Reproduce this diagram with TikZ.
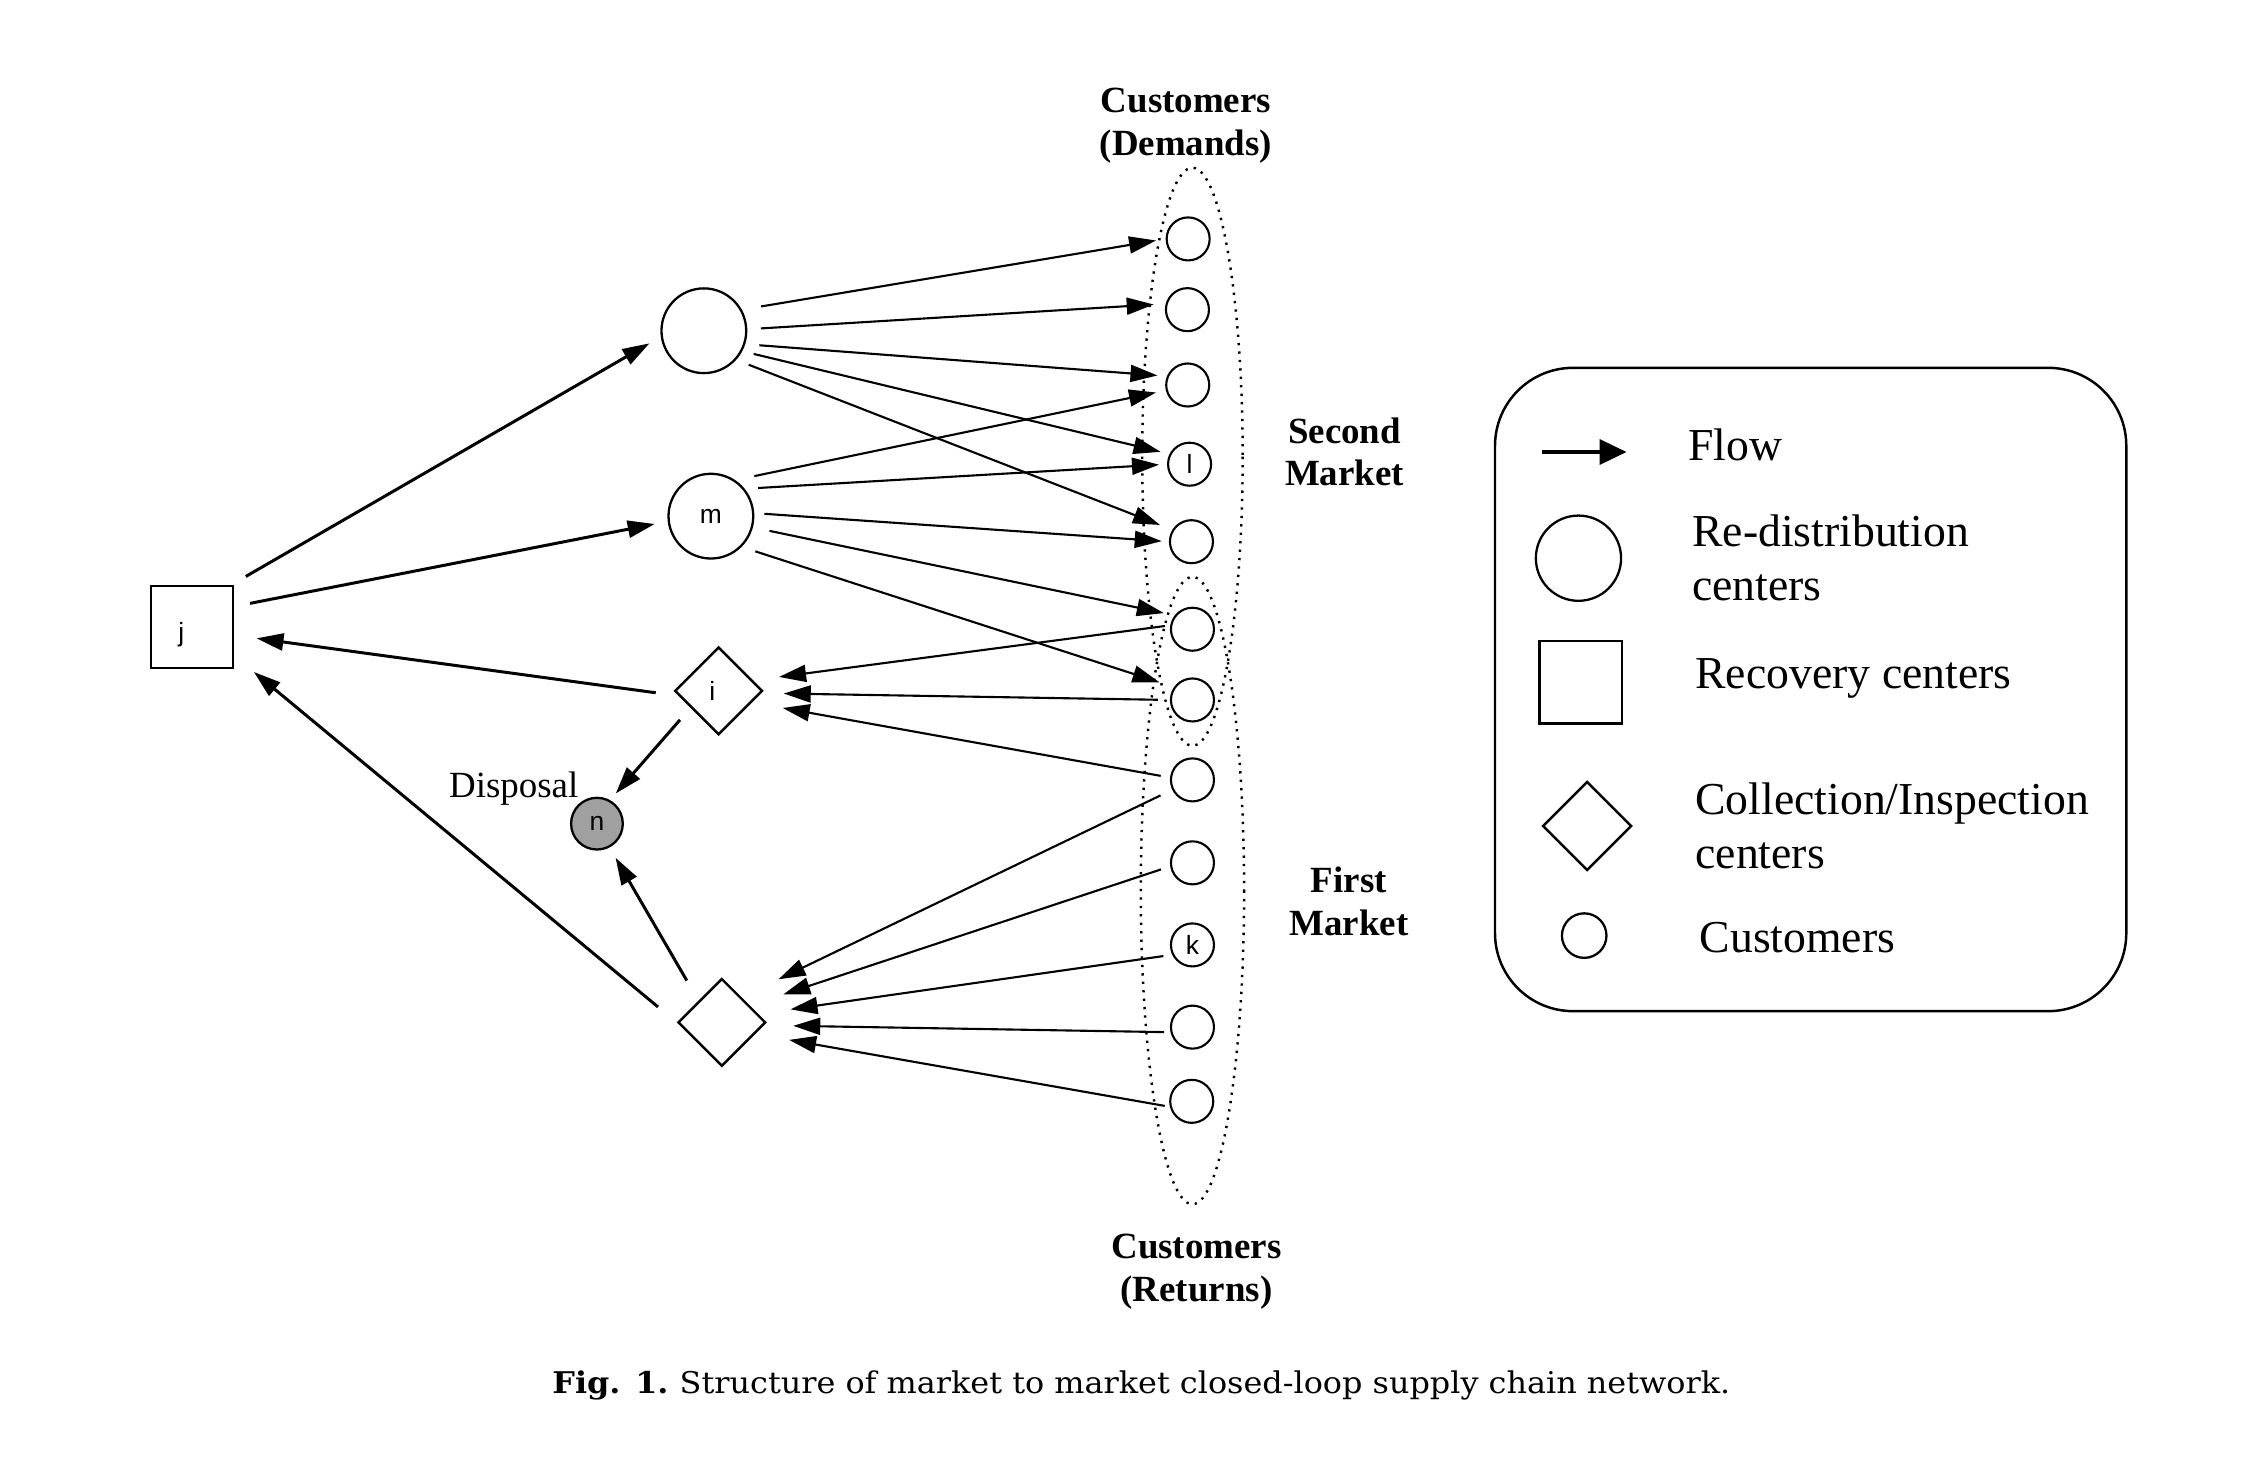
\documentclass[tikz,border=0pt]{standalone}
\usepackage{fontspec}
\setmainfont{Liberation Serif}
\setsansfont{Liberation Sans}
\newfontfamily\capfont{DejaVu Serif}
\usetikzlibrary{arrows.meta,shapes.geometric}
\definecolor{dispgray}{RGB}{160,160,160}
\begin{document}
\begin{tikzpicture}[x=0.01435cm,y=-0.01435cm,
  lettr/.style={font=\sffamily\fontsize{7.5}{8}\selectfont},
  cust/.style={circle,draw,line width=0.6pt,minimum size=0.43cm,inner sep=0pt,lettr},
  dc/.style={circle,draw,line width=0.65pt,minimum size=0.847cm,inner sep=0pt,lettr},
  rc/.style={rectangle,draw,line width=0.7pt,minimum size=0.818cm,inner sep=0pt,lettr},
  cc/.style={diamond,draw,line width=0.7pt,aspect=1,minimum width=0.877cm,minimum height=0.877cm,inner sep=0pt,lettr},
  flow/.style={-{Triangle[length=0.27cm,width=0.17cm]},line width=0.6pt},
  mflow/.style={-{Triangle[length=0.27cm,width=0.17cm]},line width=0.85pt},
  gp/.style 2 args={shorten <=#1*0.01435cm, shorten >=#2*0.01435cm},
  grp/.style={line width=0.7pt,dash pattern=on 0.65pt off 1.75pt},
  lbl/.style={font=\bfseries\fontsize{10.5}{12.1}\selectfont,anchor=base,inner sep=0pt},
  leg/.style={font=\fontsize{13}{15.4}\selectfont,anchor=base west,inner sep=0pt},
]
\fill[white] (0,0) rectangle (1568,1017);
\useasboundingbox (0,0) rectangle (1568,1017);

% customer groups
\draw[grp] (831,318.3) ellipse [x radius=35, y radius=201.4];
\draw[grp] (831,620.6) ellipse [x radius=36, y radius=218.6];

% nodes
\node[rc,text height=8.4pt,text depth=0pt] (j) at (133.7,437) {j\kern6pt};
\node[dc] (r1) at (490.5,230.5) {};
\node[dc] (m) at (495.4,359.7) {m};
\node[cc] (i) at (500.8,481.5) {i\kern3.6pt};
\node[cc] (b) at (503,712.5) {};
\node[circle,draw,line width=0.65pt,fill=dispgray,minimum size=0.517cm,inner sep=0pt,lettr] (n) at (416,574) {n};
\node[font=\fontsize{10.5}{12}\selectfont,anchor=base,inner sep=0pt] (disp) at (358,556) {Disposal};

\node[cust] (c1) at (828,166.5) {};
\node[cust] (c2) at (827.5,215.8) {};
\node[cust] (c3) at (827.7,268.3) {};
\node[cust] (c4) at (829,323.5) {l};
\node[cust] (c5) at (830.3,377.5) {};
\node[cust] (c6) at (831,438.5) {};
\node[cust] (c7) at (831,487.8) {};
\node[cust] (c8) at (831,543.5) {};
\node[cust] (c9) at (831,601.3) {};
\node[cust] (c10) at (831,658.5) {k};
\node[cust] (c11) at (831,715.8) {};
\node[cust] (c12) at (830.5,767.5) {};

% labels
\node[lbl] (dem) at (826.5,78.5) {\begin{tabular}[t]{@{}c@{}}Customers\\(Demands)\end{tabular}};
\node[lbl] (ret) at (833.8,877) {\begin{tabular}[t]{@{}c@{}}Customers\\(Returns)\end{tabular}};
\node[lbl] (sec) at (937,309) {\begin{tabular}[t]{@{}c@{}}Second\\Market\end{tabular}};
\node[lbl] (fir) at (940,622) {\begin{tabular}[t]{@{}c@{}}First\\Market\end{tabular}};

% forward flows from the top re-distribution center
\draw[flow,gp={13.6}{6.7}] (r1.29.2) -- (c1.180);
\draw[flow,gp={9.5}{8.3}] (r1.2.2) -- (c2.165);
\draw[flow,gp={9.9}{6.6}] (r1.-18) -- (c3.157.5);
\draw[flow,gp={8.2}{6.4}] (r1.-28.7) -- (c4.153.7);
\draw[flow,gp={9.4}{9.2}] (r1.-42.9) -- (c5.148);
% forward flows from m
\draw[flow,gp={13.6}{7}] (m.56.8) -- (c3.194);
\draw[flow,gp={9.4}{5.6}] (m.39.5) -- (c4.180);
\draw[flow,gp={7.1}{5}] (m.4.9) -- (c5.180);
\draw[flow,gp={11.8}{7.7}] (m.-15.9) -- (c6.142.3);
\draw[flow,gp={10}{10.6}] (m.-45.8) -- (c7.145.8);
% returns to i
\draw[flow,gp={3.7}{18.2}] (c6.170.8) -- (i.17.3);
\draw[flow,gp={8.3}{15.5}] (c7.180) -- (i.-3.6);
\draw[flow,gp={6.6}{21.6}] (c8.174.2) -- (i.-19.7);
% returns to the bottom collection center
\draw[flow,gp={9}{28.6}] (c8.206.5) -- (b.52);
\draw[flow,gp={6.8}{24.4}] (c9.189.2) -- (b.31.7);
\draw[flow,gp={6.2}{22.6}] (c10.206.6) -- (b.13.5);
\draw[flow,gp={4.5}{20.4}] (c11.193.3) -- (b.-4.5);
\draw[flow,gp={3.6}{23.9}] (c12.194) -- (b.-19.3);
% recovery flows
\draw[mflow,gp={11.8}{9.1}] (j.47.3) -- (r1.188.2);
\draw[mflow,gp={11.4}{9.2}] (j.26.9) -- (m.187.3);
\draw[mflow,gp={16}{15.8}] (i.187.3) -- (j.-11.6);
\draw[mflow,gp={16.9}{18}] (b.180) -- (j.-34.7);
\draw[mflow,gp={11.1}{6.1}] (i.211.7) -- (n.61.7);
\draw[mflow,gp={16.2}{8.3}] (b.137) -- (n.-62.9);

% legend
\node[draw,line width=0.7pt,rounded corners=0.78cm,minimum width=6.31cm,minimum height=6.43cm,inner sep=0pt] (legend) at (1261.8,480.5) {};
\coordinate (fa) at (1074.6,315);
\coordinate (fb) at (1133.5,315);
\draw[line width=1pt,-{Triangle[length=0.27cm,width=0.25cm]}] (fa) -- (fb);
\node[leg] (tflow) at (1176,321) {Flow};
\node[circle,draw,line width=0.65pt,minimum size=0.852cm,inner sep=0pt] (lc) at (1100,389) {};
\node[leg] (tre) at (1178.8,381) {\begin{tabular}[t]{@{}l@{}}Re-distribution\\centers\end{tabular}};
\node[rectangle,draw,line width=0.7pt,minimum size=0.824cm,inner sep=0pt] (lsq) at (1101.7,475.4) {};
\node[leg] (trc) at (1181,479.5) {Recovery centers};
\node[diamond,draw,line width=0.7pt,aspect=1,minimum width=0.89cm,minimum height=0.89cm,inner sep=0pt] (ldm) at (1106,575.6) {};
\node[leg] (tci) at (1181,567.3) {\begin{tabular}[t]{@{}l@{}}Collection/Inspection\\centers\end{tabular}};
\node[circle,draw,line width=0.65pt,minimum size=0.445cm,inner sep=0pt] (lcu) at (1104,652) {};
\node[leg] (tcu) at (1184,664) {Customers};

% caption
\node[anchor=base,inner sep=0pt] (cap) at (795.4,971) {\capfont\fontsize{8.5}{10}\selectfont\resizebox{335pt}{\height}{\textbf{Fig. 1.}\hspace{0.35em}Structure of market to market closed-loop supply chain network.}};
\end{tikzpicture}
\end{document}
